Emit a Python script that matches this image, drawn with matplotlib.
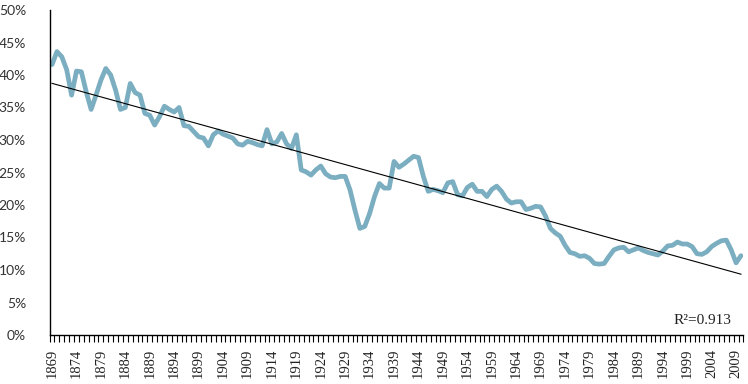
import numpy as np
import matplotlib
matplotlib.use("Agg")
import matplotlib.pyplot as plt
from matplotlib.ticker import FixedLocator, FuncFormatter

years = list(range(1869, 2011))
share = [
    41.6, 43.6, 42.8, 40.8, 36.9, 40.6, 40.5, 37.4, 34.7, 36.9,   # 1869-1878
    39.2, 41.0, 40.0, 37.7, 34.7, 35.0, 38.7, 37.3, 36.9, 34.1,   # 1879-1888
    33.8, 32.3, 33.6, 35.2, 34.7, 34.3, 35.0, 32.2, 32.1, 31.3,   # 1889-1898
    30.5, 30.3, 29.1, 30.8, 31.4, 30.9, 30.6, 30.3, 29.4, 29.2,   # 1899-1908
    29.8, 29.6, 29.3, 29.1, 31.6, 29.4, 29.7, 31.0, 29.4, 28.7,   # 1909-1918
    30.8, 25.4, 25.1, 24.6, 25.4, 26.0, 24.8, 24.3, 24.2, 24.4,   # 1919-1928
    24.4, 22.3, 19.2, 16.4, 16.7, 18.7, 21.3, 23.3, 22.6, 22.6,   # 1929-1938
    26.7, 25.8, 26.3, 26.9, 27.5, 27.3, 24.4, 22.1, 22.4, 22.2,   # 1939-1948
    21.9, 23.4, 23.6, 21.6, 21.4, 22.7, 23.2, 22.1, 22.1, 21.3,   # 1949-1958
    22.4, 22.9, 22.1, 20.9, 20.3, 20.5, 20.5, 19.3, 19.5, 19.8,   # 1959-1968
    19.7, 18.3, 16.4, 15.7, 15.2, 13.8, 12.7, 12.5, 12.1, 12.2,   # 1969-1978
    11.8, 11.0, 10.9, 11.0, 12.1, 13.1, 13.4, 13.5, 12.8, 13.1,   # 1979-1988
    13.4, 13.0, 12.7, 12.5, 12.3, 12.9, 13.7, 13.8, 14.3, 14.0,   # 1989-1998
    14.0, 13.6, 12.5, 12.4, 12.8, 13.6, 14.1, 14.5, 14.6, 13.1,   # 1999-2008
    11.1, 12.2,                                                   # 2009-2010
]
label_years = list(range(1869, 2010, 5))
y_ticks = [0, 5, 10, 15, 20, 25, 30, 35, 40, 45, 50]
r2_text = "R\u00b2=0.913"

assert len(years) == len(share)

x = np.array(years, dtype=float)
y = np.array(share, dtype=float)
coef = np.polyfit(x, y, 1)

fig = plt.figure(figsize=(7.48, 3.84), dpi=100)
ax = fig.add_axes([49.6 / 748, 1 - 335 / 384, (743.4 - 49.6) / 748, (335 - 10) / 384])

ax.plot(x, y, color="#7aaec0", lw=3.4, solid_joinstyle="round", solid_capstyle="round", zorder=2)
ax.plot(x, np.polyval(coef, x), color="black", lw=0.8, zorder=3)

ax.set_xlim(years[0] - 0.5, years[-1] + 0.5)
ax.set_ylim(0, 50)

for s in ["top", "right"]:
    ax.spines[s].set_visible(False)
for s in ["left", "bottom"]:
    ax.spines[s].set_color("#000000")
    ax.spines[s].set_linewidth(1.0)

ax.set_xticks(label_years)
ax.set_xticklabels([str(v) for v in label_years], rotation=90,
                   fontfamily="Liberation Serif", fontsize=10.5, color="#222222")
ax.xaxis.set_minor_locator(FixedLocator(np.arange(years[0] - 0.5, years[-1] + 1.0, 1.0)))
ax.tick_params(axis="x", which="major", length=0, pad=10)
ax.tick_params(axis="x", which="minor", length=5, width=0.8, color="black", direction="out")

ax.set_yticks(y_ticks)
ax.yaxis.set_major_formatter(FuncFormatter(lambda v, p: f"{int(v)}%"))
ax.tick_params(axis="y", length=0, pad=17)
for lab in ax.get_yticklabels():
    lab.set_fontfamily("Lato")
    lab.set_fontsize(10)
    lab.set_color("#333333")

ax.text(0.983, 0.025, r2_text, transform=ax.transAxes, ha="right", va="bottom",
        fontfamily="Liberation Serif", fontsize=11, color="#222222")

fig.savefig("out.png", dpi=100)
